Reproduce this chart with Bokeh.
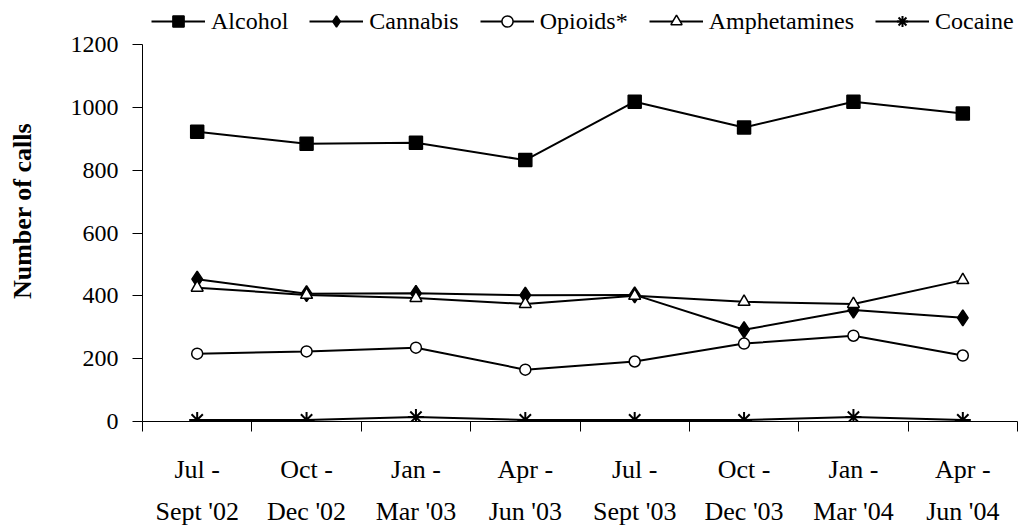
from bokeh.plotting import figure
from bokeh.models import (Range1d, LinearAxis, FixedTicker, Legend, LegendItem)
from bokeh.embed import file_html
from bokeh.resources import INLINE

quarter_start = ["Jul -", "Oct -", "Jan -", "Apr -", "Jul -", "Oct -", "Jan -", "Apr -"]
quarter_end = ["Sept '02", "Dec '02", "Mar '03", "Jun '03",
               "Sept '03", "Dec '03", "Mar '04", "Jun '04"]
alcohol = [922, 884, 887, 832, 1018, 936, 1018, 980]
cannabis = [453, 407, 408, 402, 403, 292, 355, 330]
opioids = [216, 223, 235, 165, 191, 248, 273, 210]
amphetamines = [426, 403, 393, 374, 400, 381, 374, 450]
cocaine = [5, 5, 14, 5, 5, 5, 14, 5]
y_ticks = [0, 200, 400, 600, 800, 1000, 1200]

n = len(quarter_end)
# category slots: centre of slot i at i + 0.5, boundaries at integers
xs = [i + 0.5 for i in range(n)]
boundaries = list(range(n + 1))

FONT = "Liberation Serif"
Y_MAX = 1200
# frame spans full top; extra headroom above 1200 holds the legend
Y_TOP = Y_MAX * 421 / 377

p = figure(x_range=Range1d(0, n), y_range=Range1d(0, Y_TOP),
           width=1018, height=528,
           output_backend="svg", toolbar_location=None, x_axis_location=None,
           min_border_left=142, min_border_right=1, min_border_top=0,
           min_border_bottom=107)
p.grid.visible = False
p.outline_line_color = None
p.background_fill_color = "white"
p.border_fill_color = "white"

yax = p.yaxis[0]
yax.ticker = FixedTicker(ticks=y_ticks)
yax.bounds = (0, Y_MAX)
yax.minor_tick_line_color = None
yax.major_tick_in = 0
yax.major_tick_out = 10
yax.axis_line_color = "black"
yax.major_tick_line_color = "black"
yax.major_label_text_font = FONT
yax.major_label_text_font_size = "24px"
yax.major_label_text_color = "black"
yax.major_label_standoff = 14
yax.axis_label = "Number of calls"
yax.axis_label_text_font = FONT
yax.axis_label_text_font_size = "26px"
yax.axis_label_text_font_style = "bold"
yax.axis_label_text_color = "black"
yax.axis_label_standoff = 31

# boundary ticks axis (labels not drawn)
tick_axis = LinearAxis(ticker=FixedTicker(ticks=boundaries),
                       major_tick_out=10, major_tick_in=0,
                       minor_tick_line_color=None, axis_line_color="black",
                       major_tick_line_color="black",
                       major_label_text_color=None,
                       major_label_text_font_size="1px", major_label_standoff=0)
p.add_layout(tick_axis, "below")

def label_axis(texts, standoff):
    return LinearAxis(ticker=FixedTicker(ticks=xs),
                      axis_line_color=None, major_tick_line_color=None,
                      minor_tick_line_color=None,
                      major_tick_in=0, major_tick_out=0,
                      major_label_overrides={x: t for x, t in zip(xs, texts)},
                      major_label_standoff=standoff,
                      major_label_text_font=FONT,
                      major_label_text_font_size="26px",
                      major_label_text_color="black")

p.add_layout(label_axis(quarter_start, 23), "below")
p.add_layout(label_axis(quarter_end, 10), "below")

series = [
    ("Alcohol", alcohol, dict(marker="square", size=13, fill_color="black", line_width=1.5)),
    ("Cannabis", cannabis, dict(marker="diamond", size=16, fill_color="black", line_width=1.5)),
    ("Opioids*", opioids, dict(marker="circle", size=11, fill_color="white", line_width=1.5)),
    ("Amphetamines", amphetamines, dict(marker="triangle", size=12, fill_color="white", line_width=1.5)),
    ("Cocaine", cocaine, dict(marker="asterisk", size=16, fill_color="black", line_width=2)),
]

items = []
for name, vals, mk in series:
    ln = p.line(xs, vals, line_color="black", line_width=2)
    sc = p.scatter(xs, vals, line_color="black", **mk)
    items.append(LegendItem(label=name, renderers=[ln, sc]))

legend = Legend(items=items, orientation="horizontal", location=(9, 386),
                glyph_width=54, glyph_height=28, label_standoff=6, spacing=21,
                padding=0, margin=0, border_line_color=None,
                background_fill_alpha=0, label_text_font=FONT,
                label_text_font_size="24px", label_text_color="black")
p.add_layout(legend, "center")

open("out.html", "w").write(file_html(p, INLINE))
